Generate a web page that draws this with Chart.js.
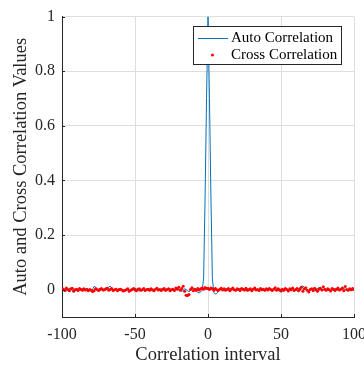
<!DOCTYPE html>
<html>
<head>
<meta charset="utf-8">
<script src="https://cdn.jsdelivr.net/npm/chart.js@4.4.1/dist/chart.umd.min.js"></script>
<style>
  html, body { margin: 0; padding: 0; background: #fff; overflow: hidden; }
  #wrap { width: 380px; height: 372px; }
</style>
</head>
<body>
<div id="wrap"><canvas id="myChart" width="380" height="372"></canvas></div>
<script>
/******** chart data (lags -100 .. 100) */
const xTicks = [-100, -50, 0, 50, 100];
const yTicks = [0, 0.2, 0.4, 0.6, 0.8, 1];
const seriesNames = ["Auto Correlation", "Cross Correlation"];
const xTitle = "Correlation interval";
const yTitle = "Auto and Cross Correlation Values";

const autoCorr = [
  0.003, 0.005, 0.001, -0.004, -0.002, 0.003, 0.001, -0.003, 0.000, 0.002,
  0.001, -0.002, -0.001, 0.002, 0.004, 0.001, -0.003, -0.002, 0.001, 0.000,
  -0.004, 0.003, 0.012, 0.010, 0.002, -0.006, -0.004, 0.001, 0.003, 0.000,
  -0.002, 0.004, 0.010, 0.013, 0.006, 0.001, -0.002, 0.002, 0.000, -0.003,
  0.001, 0.003, -0.002, -0.004, 0.000, 0.002, -0.001, -0.003, 0.001, 0.004,
  0.006, 0.002, -0.003, -0.005, 0.000, 0.003, 0.001, -0.002, -0.001, 0.002,
  0.003, -0.001, -0.004, 0.000, 0.002, 0.001, -0.002, 0.001, 0.003, 0.000,
  -0.003, -0.006, -0.002, 0.003, 0.004, 0.000, -0.004, -0.002, 0.003, 0.005,
  0.001, -0.004, -0.006, -0.002, 0.003, 0.001, -0.005, -0.007, -0.003, 0.002,
  0.004, 0.000, -0.005, -0.010, -0.012, -0.008, -0.002, 0.040, 0.340, 0.700,
  1.000,
  0.700, 0.340, 0.040, -0.010, -0.016, -0.014, -0.006, 0.000, 0.002, -0.001,
  0.002, 0.004, 0.001, -0.003, -0.002, 0.002, 0.003, 0.000, -0.003, -0.001,
  0.002, 0.004, 0.001, -0.002, -0.004, 0.000, 0.003, 0.002, -0.001, -0.003,
  0.000, 0.003, 0.002, -0.002, -0.001, 0.002, 0.001, -0.003, -0.002, 0.001,
  0.003, 0.000, -0.002, 0.001, 0.004, 0.006, 0.003, -0.002, -0.006, -0.009,
  -0.006, -0.001, 0.002, 0.000, -0.003, -0.001, 0.003, 0.004, 0.001, -0.002,
  0.000, 0.004, 0.008, 0.012, 0.014, 0.008, 0.001, -0.003, -0.006, -0.002,
  0.002, -0.001, -0.004, 0.000, 0.004, 0.008, 0.010, 0.004, -0.002, -0.003,
  0.000, 0.003, 0.001, -0.003, -0.002, 0.002, 0.004, 0.001, -0.002, 0.000,
  0.006, 0.011, 0.006, 0.000, -0.003, 0.001, 0.003, 0.000, -0.002, 0.001
];

const crossCorr = [
  0.004, 0.002, -0.003, 0.006, 0.001, -0.004, 0.003, 0.005, -0.006, 0.000,
  0.002, -0.003, 0.004, 0.001, -0.002, 0.003, -0.001, 0.002, -0.004, 0.001,
  -0.002, -0.007, -0.004, 0.003, 0.001, -0.003, 0.002, 0.004, -0.001, 0.000,
  0.003, 0.005, -0.002, 0.001, 0.004, -0.003, 0.000, 0.002, -0.004, 0.001,
  0.002, -0.001, -0.005, -0.003, 0.000, 0.003, -0.006, -0.002, 0.001, 0.004,
  -0.001, -0.004, 0.002, 0.003, -0.002, 0.000, 0.004, -0.003, 0.001, 0.002,
  -0.002, 0.003, 0.000, -0.004, 0.002, 0.005, -0.001, 0.001, -0.003, 0.002,
  0.004, -0.002, 0.001, 0.003, -0.004, 0.000, 0.002, -0.003, 0.006, 0.002,
  0.009, -0.002, 0.004, 0.013, -0.006, -0.020, -0.021, -0.018, 0.001, 0.007,
  -0.004, 0.002, -0.003, 0.004, -0.001, 0.003, 0.006, 0.002, 0.008, 0.004,
  0.005,
  0.001, 0.006, 0.003, -0.002, 0.004, 0.000, -0.003, 0.002, 0.005, -0.001,
  0.003, -0.002, 0.001, 0.004, -0.004, 0.002, 0.006, 0.000, -0.002, 0.003,
  0.001, -0.003, 0.004, 0.002, -0.001, 0.005, -0.002, 0.000, 0.003, -0.004,
  0.002, 0.006, -0.001, 0.001, -0.003, 0.004, 0.000, 0.002, -0.002, 0.003,
  -0.001, 0.004, 0.001, -0.003, 0.002, 0.007, -0.002, 0.003, 0.000, -0.004,
  0.002, -0.002, 0.004, 0.001, -0.005, 0.003, 0.000, 0.006, -0.003, 0.001,
  0.004, -0.004, 0.002, 0.009, -0.006, 0.003, 0.007, -0.002, -0.008, 0.001,
  0.003, -0.003, 0.005, 0.000, -0.006, 0.002, 0.004, -0.001, 0.011, 0.002,
  -0.002, 0.003, 0.000, -0.005, 0.004, 0.001, -0.003, 0.002, 0.006, -0.001,
  0.002, 0.005, -0.004, 0.012, 0.001, -0.002, 0.003, 0.000, 0.004, 0.001
];

const lags = autoCorr.map((v, i) => i - 100);

const blue = "#0072BD";
const red = "#FF0000";
const axisColor = "#262626";
const gridColor = "#dedede";
const serif = "'Liberation Serif', 'Times New Roman', serif";

/******** legend drawn inside the plot, MATLAB style */
const legendBox = {
  id: "legendBox",
  afterDatasetsDraw(chart) {
    const c = chart.ctx;
    c.save();
    c.fillStyle = "#fff";
    c.fillRect(193.5, 26.5, 148, 38);
    c.strokeStyle = axisColor;
    c.lineWidth = 1;
    c.strokeRect(193.5, 26.5, 148, 38);

    c.strokeStyle = blue;
    c.beginPath();
    c.moveTo(198, 38.5);
    c.lineTo(228, 38.5);
    c.stroke();

    c.fillStyle = red;
    c.beginPath();
    c.arc(212.5, 55, 1.5, 0, Math.PI * 2);
    c.fill();

    c.fillStyle = "#000";
    c.font = "15px " + serif;
    c.textBaseline = "middle";
    c.fillText(seriesNames[0], 231, 38);
    c.fillText(seriesNames[1], 231, 55);
    c.restore();
  }
};

/******** inward tick marks */
const innerTicks = {
  id: "innerTicks",
  afterDraw(chart) {
    const c = chart.ctx;
    const xs = chart.scales.x;
    const ys = chart.scales.y;
    const a = chart.chartArea;
    c.save();
    c.strokeStyle = axisColor;
    c.lineWidth = 1;
    c.beginPath();
    xTicks.forEach((v) => {
      const px = Math.round(xs.getPixelForValue(v)) + 0.5;
      c.moveTo(px, a.bottom);
      c.lineTo(px, a.bottom - 3);
    });
    yTicks.forEach((v) => {
      const py = Math.round(ys.getPixelForValue(v)) + 0.5;
      c.moveTo(a.left, py);
      c.lineTo(a.left + 3, py);
    });
    c.stroke();
    c.restore();
  }
};

const ctx = document.getElementById("myChart");
new Chart(ctx, {
  type: "scatter",
  data: {
    datasets: [
      {
        label: seriesNames[0],
        data: lags.map((x, i) => ({ x: x, y: autoCorr[i] })),
        showLine: true,
        borderColor: blue,
        borderWidth: 1,
        pointRadius: 0,
        tension: 0,
        order: 1,
      },
      {
        label: seriesNames[1],
        data: lags.map((x, i) => ({ x: x, y: crossCorr[i] })),
        showLine: false,
        backgroundColor: red,
        borderColor: red,
        borderWidth: 0,
        pointRadius: 1.5,
        order: 0,
      },
    ],
  },
  options: {
    responsive: false,
    animation: false,
    layout: { padding: { top: 14, right: 26, left: 0, bottom: 0 } },
    plugins: {
      legend: { display: false },
      tooltip: { enabled: false },
    },
    scales: {
      x: {
        type: "linear",
        min: -100,
        max: 100,
        afterBuildTicks: (s) => { s.ticks = xTicks.map((v) => ({ value: v })); },
        afterFit: (s) => { s.height = 55; },
        border: { color: axisColor, width: 1 },
        grid: { color: gridColor, drawTicks: false },
        ticks: { padding: 8, color: axisColor, font: { family: serif, size: 16 }, maxRotation: 0 },
        title: {
          display: true,
          text: xTitle,
          color: axisColor,
          font: { family: serif, size: 18.5 },
          padding: { top: 0, bottom: 6 },
        },
      },
      y: {
        min: -0.1,
        max: 1,
        afterBuildTicks: (s) => { s.ticks = yTicks.map((v) => ({ value: v })); },
        afterFit: (s) => { s.width = 62; },
        border: { color: axisColor, width: 1 },
        grid: { color: gridColor, drawTicks: false },
        ticks: {
          padding: 7,
          color: axisColor,
          font: { family: serif, size: 16 },
          callback: (v) => String(v),
        },
        title: {
          display: true,
          text: yTitle,
          color: axisColor,
          font: { family: serif, size: 18.5 },
          padding: { top: 10, bottom: 0 },
        },
      },
    },
  },
  plugins: [legendBox, innerTicks],
});
</script>
</body>
</html>
